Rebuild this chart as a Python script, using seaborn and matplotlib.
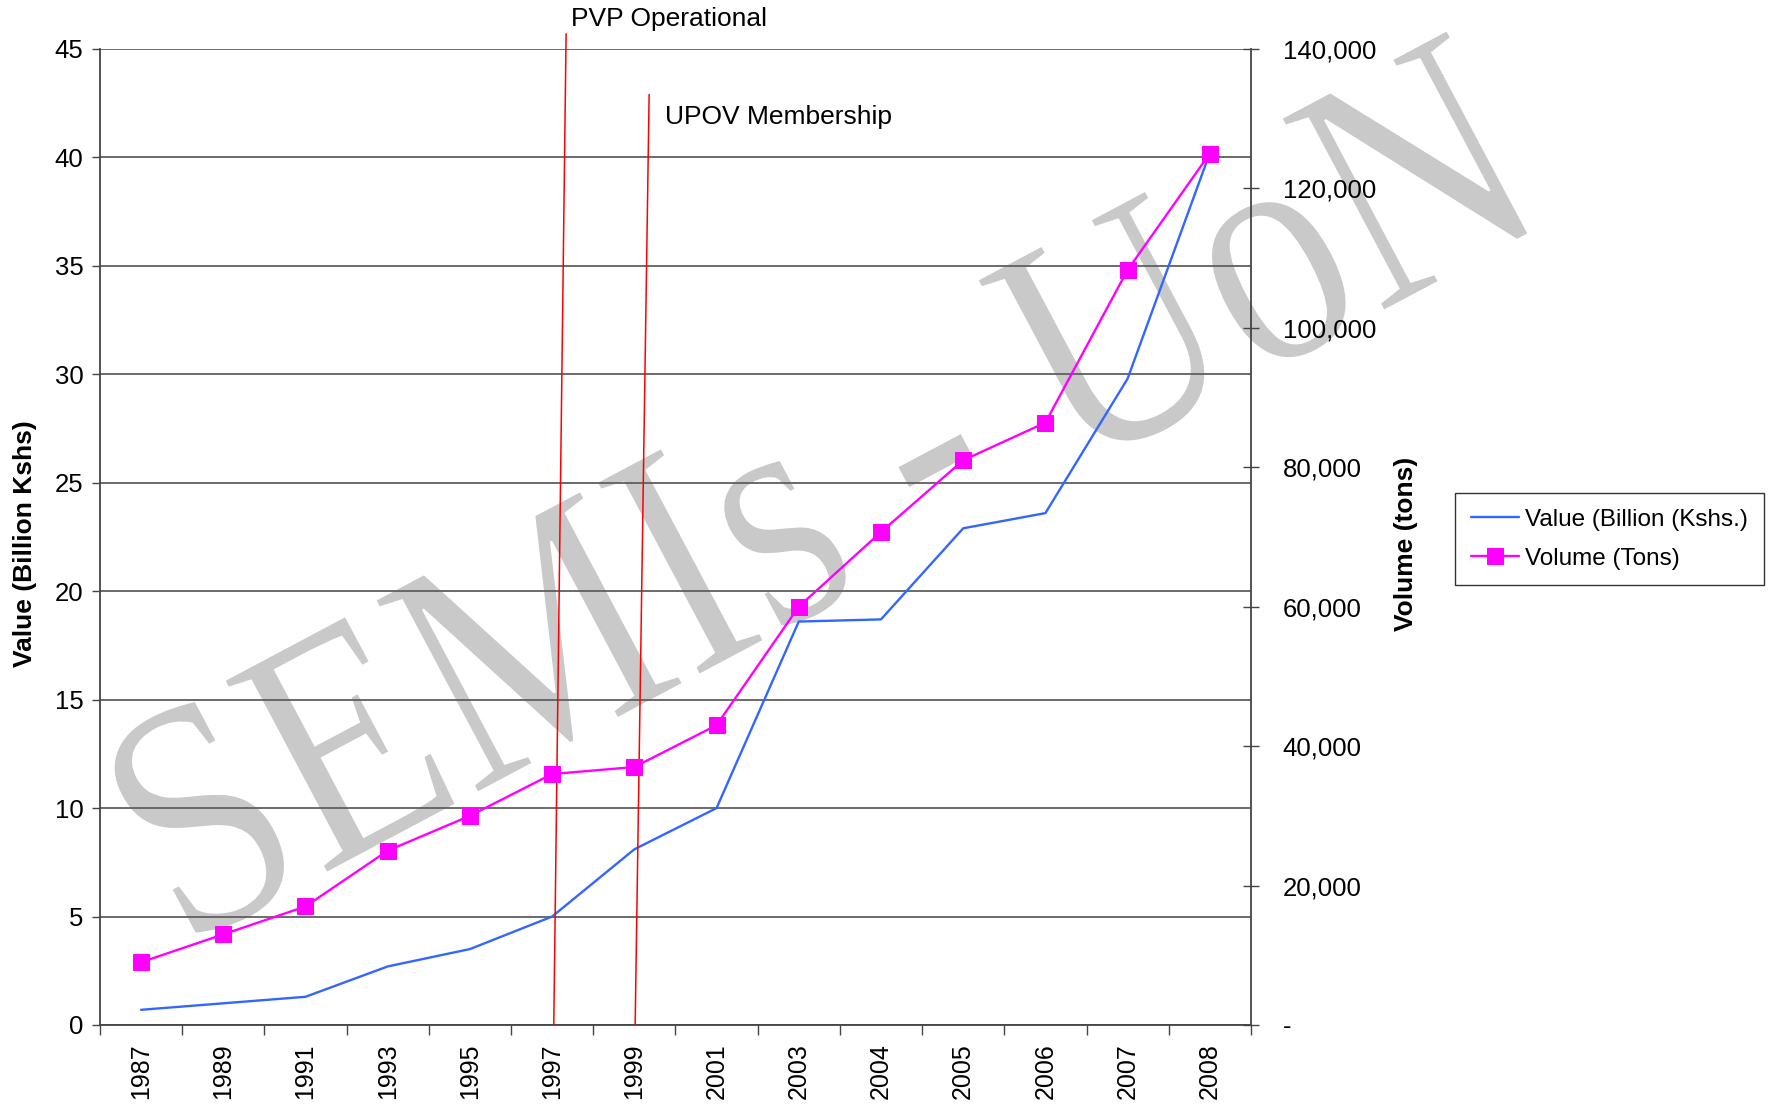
# Kenya cut flower exports: value vs volume, 1987-2008
import numpy as np
import pandas as pd
import matplotlib
matplotlib.use("Agg")
import matplotlib.pyplot as plt
import matplotlib.transforms as mtransforms
from matplotlib.textpath import TextPath
from matplotlib.patches import PathPatch
from matplotlib.font_manager import FontProperties
from matplotlib.ticker import FuncFormatter, MultipleLocator, FixedLocator
import seaborn as sns

# Data
years = ["1987", "1989", "1991", "1993", "1995", "1997", "1999",
         "2001", "2003", "2004", "2005", "2006", "2007", "2008"]
value_bn = [0.7, 1.0, 1.3, 2.7, 3.5, 5.0, 8.1,
            10.0, 18.6, 18.7, 22.9, 23.6, 29.8, 40.2]
volume_tons = [9000, 13000, 17000, 25000, 30000, 36000, 37000,
               43000, 60000, 70700, 81000, 86400, 108300, 125000]

# Policy milestones (drawn as hand-placed slanted red lines)
events = ["PVP Operational", "UPOV Membership"]
event_years = ["1997", "1999"]

df = pd.DataFrame({"year": years, "value": value_bn, "volume": volume_tons})
df["pos"] = np.arange(len(years))

sns.set_style("white")
plt.rcParams["font.family"] = ["Liberation Sans", "DejaVu Sans"]
plt.rcParams["text.color"] = "black"
plt.rcParams["axes.labelcolor"] = "black"

fig = plt.figure(figsize=(17.85, 11.05), dpi=100)
ax = fig.add_axes([0.056, 0.0724, 0.6448, 0.8833])
ax.patch.set_visible(False)

# watermark behind everything
wm = TextPath((0, 0), "SEMIs - UoN", size=1,
              prop=FontProperties(family="Liberation Serif"))
ext = wm.get_extents()
wm_tr = (mtransforms.Affine2D()
         .translate(-ext.x0 - ext.width / 2, -ext.y0 - ext.height / 2)
         .scale(1530 / ext.width, 224 / ext.height)
         .rotate_deg(28)
         .translate(823, 619)
         .scale(1 / 100.0))
fig.add_artist(PathPatch(wm, transform=wm_tr + fig.dpi_scale_trans,
                         facecolor="#c9c9c9", edgecolor="white",
                         linewidth=1.6, zorder=-1))

grid_col = "#5f5f5f"
spine_col = "#444444"

sns.lineplot(data=df, x="pos", y="value", ax=ax, color="#3366FF",
             linewidth=1.7, label="Value (Billion (Kshs.)", legend=False)

ax.set_xlim(-0.5, len(years) - 0.5)
ax.set_ylim(0, 45)
ax.yaxis.set_major_locator(MultipleLocator(5))
ax.set_xticks(df["pos"], years, rotation=90)
ax.xaxis.set_minor_locator(FixedLocator(np.arange(len(years) + 1) - 0.5))
ax.tick_params(axis="x", which="major", length=0, labelsize=18,
               labelcolor="black", pad=13)
ax.tick_params(axis="x", which="minor", length=7, width=1, color=spine_col,
               direction="out", bottom=True)
ax.tick_params(axis="y", length=6, width=1, color=spine_col, direction="out",
               left=True, labelsize=18.5, labelcolor="black", pad=6)
ax.grid(axis="y", color=grid_col, linewidth=1.3)
ax.grid(axis="x", visible=False)
ax.set_axisbelow(True)
for s in ["left", "bottom"]:
    ax.spines[s].set_color(spine_col)
    ax.spines[s].set_linewidth(1.3)
ax.spines["top"].set_visible(False)
ax.spines["right"].set_visible(False)
ax.set_xlabel("")
ax.set_ylabel("Value (Billion Kshs)", fontsize=19, fontweight="bold")
ax.yaxis.set_label_coords(-0.055, 0.493)

ax2 = ax.twinx()
sns.lineplot(data=df, x="pos", y="volume", ax=ax2, color="#FF00FF",
             linewidth=1.7, marker="s", markersize=11,
             markeredgecolor="#FF00FF", markerfacecolor="#FF00FF",
             label="Volume (Tons)", legend=False)
ax2.set_ylim(0, 140000)
ax2.yaxis.set_major_locator(MultipleLocator(20000))
ax2.yaxis.set_major_formatter(FuncFormatter(lambda v, p: "-" if v == 0 else f"{v:,.0f}"))
ax2.tick_params(axis="y", right=True, direction="inout", length=12, width=1,
                color=spine_col, labelsize=18.5, labelcolor="black", pad=17)
ax2.grid(False)
for s in ["left", "bottom", "top"]:
    ax2.spines[s].set_visible(False)
ax2.spines["right"].set_color(spine_col)
ax2.spines["right"].set_linewidth(1.3)
ax2.set_ylabel("Volume (tons)", fontsize=19, fontweight="bold")
ax2.yaxis.set_label_coords(1.124, 0.493)

# milestone lines: lean slightly right, top end above the plot for PVP
lean = [(0.02, 0.17, 45.7), (0.01, 0.18, 42.9)]
text_at = [(0.23, 46.4), (0.37, 41.85)]
for name, yr, (b, t, top), (tx, ty) in zip(events, event_years, lean, text_at):
    i = years.index(yr)
    ax.plot([i + b, i + t], [0, top], color="red", linewidth=1.1,
            clip_on=False, zorder=5)
    ax.text(i + tx, ty, name, fontsize=19, va="center", ha="left",
            clip_on=False)

handles = ax.get_lines()[:1] + ax2.get_lines()[:1]
leg = fig.legend(handles, [h.get_label() for h in handles],
                 loc="upper left", bbox_to_anchor=(0.815, 0.554),
                 fontsize=17.5, frameon=True, fancybox=False,
                 edgecolor="#333333", framealpha=1, handlelength=2.0,
                 handletextpad=0.25, borderpad=0.65, labelspacing=0.7,
                 borderaxespad=0)
leg.get_frame().set_linewidth(1)

fig.savefig("out.png", dpi=100)
